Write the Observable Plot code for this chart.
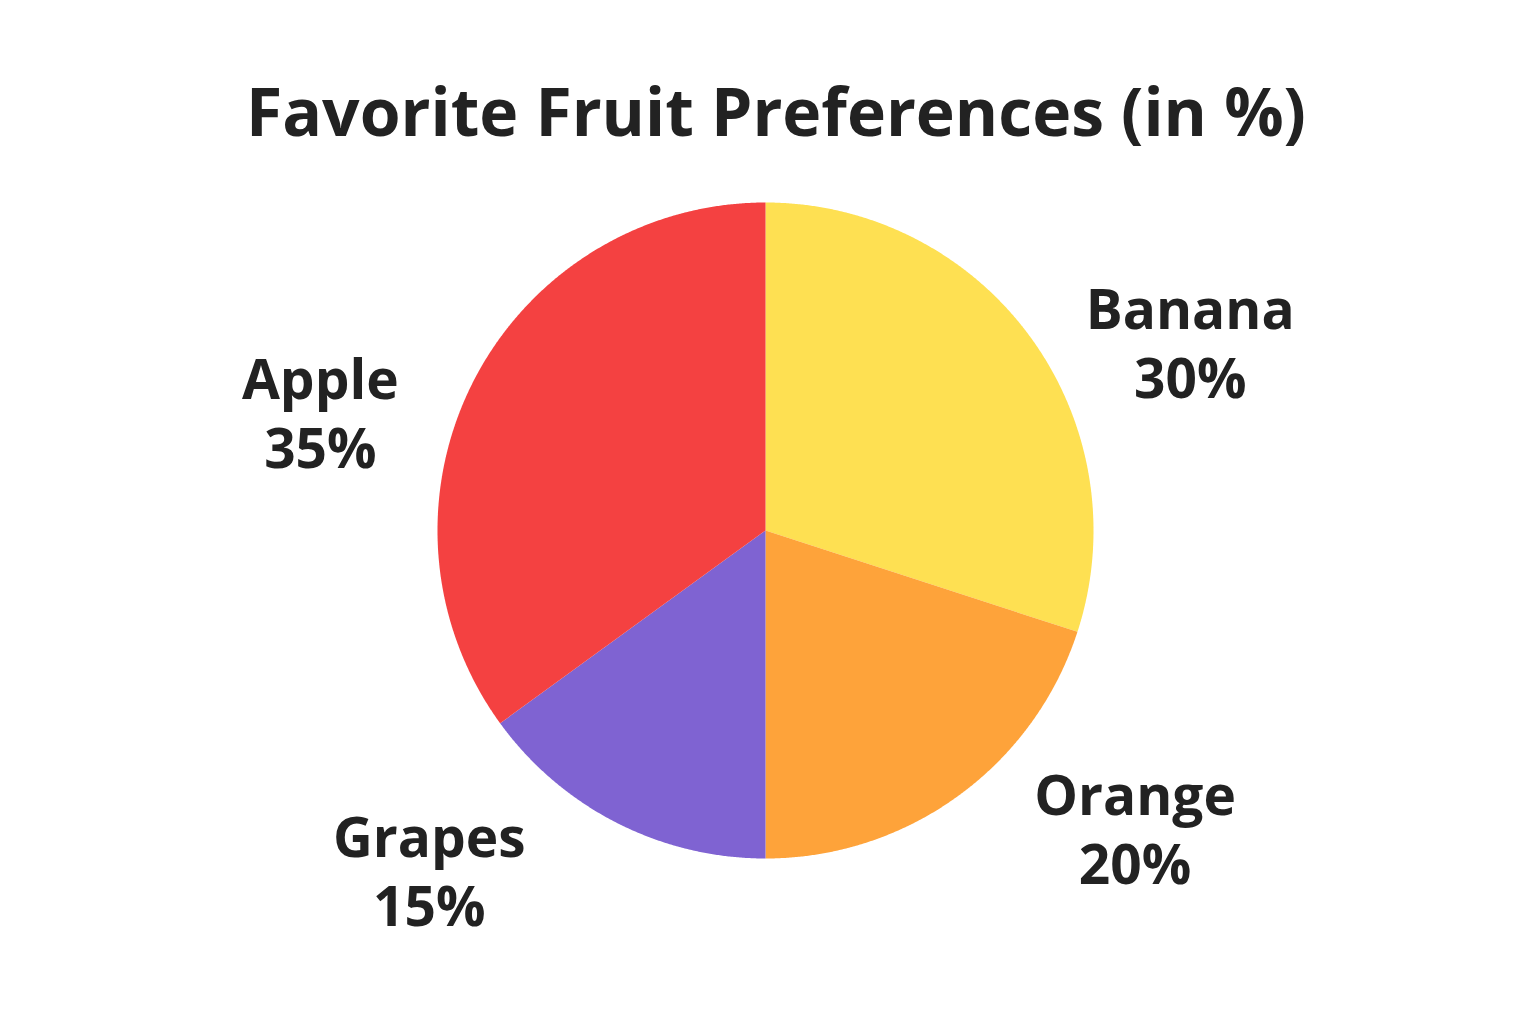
<!DOCTYPE html>
<html><head><meta charset="utf-8">
<script src="https://cdn.jsdelivr.net/npm/d3@7"></script>
<script src="https://cdn.jsdelivr.net/npm/@observablehq/plot@0.6"></script>
<style>
html,body{margin:0;padding:0;background:#fff;}
#title{height:170px;box-sizing:border-box;padding-top:77px;padding-left:16px;font-family:"Open Sans",sans-serif;font-weight:700;font-size:66px;line-height:1;color:#222;text-align:center;white-space:nowrap;}
#chart svg{display:block;}
</style></head><body>
<div id="title">Favorite Fruit Preferences (in %)</div>
<div id="chart"></div>
<script>
// Data (clockwise from 12 o'clock)
const fruits = ["Banana", "Orange", "Grapes", "Apple"];
const shares = [30, 20, 15, 35];
const colors = ["#FEE052", "#FEA33A", "#7F63D2", "#F44141"];

const W = 1536, H = 854, R = 328, CX = 765, CY = 360;

const total = d3.sum(shares);
let acc = 0;
const slices = fruits.map((f, i) => {
  const a0 = acc / total * 2 * Math.PI;
  acc += shares[i];
  const a1 = acc / total * 2 * Math.PI;
  return {fruit: f, share: shares[i], a0, a1, mid: (a0 + a1) / 2};
});

const pts = [];
for (const s of slices) {
  pts.push({fruit: s.fruit, x: 0, y: 0});
  const n = Math.max(2, Math.ceil((s.a1 - s.a0) / (Math.PI / 720)));
  for (let k = 0; k <= n; k++) {
    const a = s.a0 + (s.a1 - s.a0) * k / n;
    pts.push({fruit: s.fruit, x: Math.sin(a), y: Math.cos(a)});
  }
  pts.push({fruit: s.fruit, x: 0, y: 0});
}

// outside label placement derived from each slice's mid angle
const labels = slices.map(s => {
  const sx = Math.sin(s.mid), cy = Math.cos(s.mid);
  return {
    name: s.fruit,
    pct: `${s.share}%`,
    x: Math.sign(sx) * (0.68 + 0.76 * Math.abs(sx)),
    y: Math.sign(cy) * (1.59 * Math.abs(cy) - 0.37)
  };
});

const chart = Plot.plot({
  width: W, height: H,
  margin: 0,
  x: {domain: [-CX / R, (W - CX) / R], range: [0, W], axis: null},
  y: {domain: [-(H - CY) / R, CY / R], range: [H, 0], axis: null},
  color: {domain: fruits, range: colors},
  style: {fontFamily: "Open Sans", background: "#fff"},
  marks: [
    Plot.line(pts, {x: "x", y: "y", z: "fruit", fill: "fruit", stroke: null, strokeWidth: 0}),
    Plot.text(labels, {x: "x", y: "y", text: "name", dy: -34, fontSize: 55, fontWeight: 700, fill: "#222", fontFamily: "Open Sans"}),
    Plot.text(labels, {x: "x", y: "y", text: "pct", dy: 35, fontSize: 55, fontWeight: 700, fill: "#222", fontFamily: "Open Sans"})
  ]
});
document.getElementById("chart").appendChild(chart);
</script>
</body></html>
